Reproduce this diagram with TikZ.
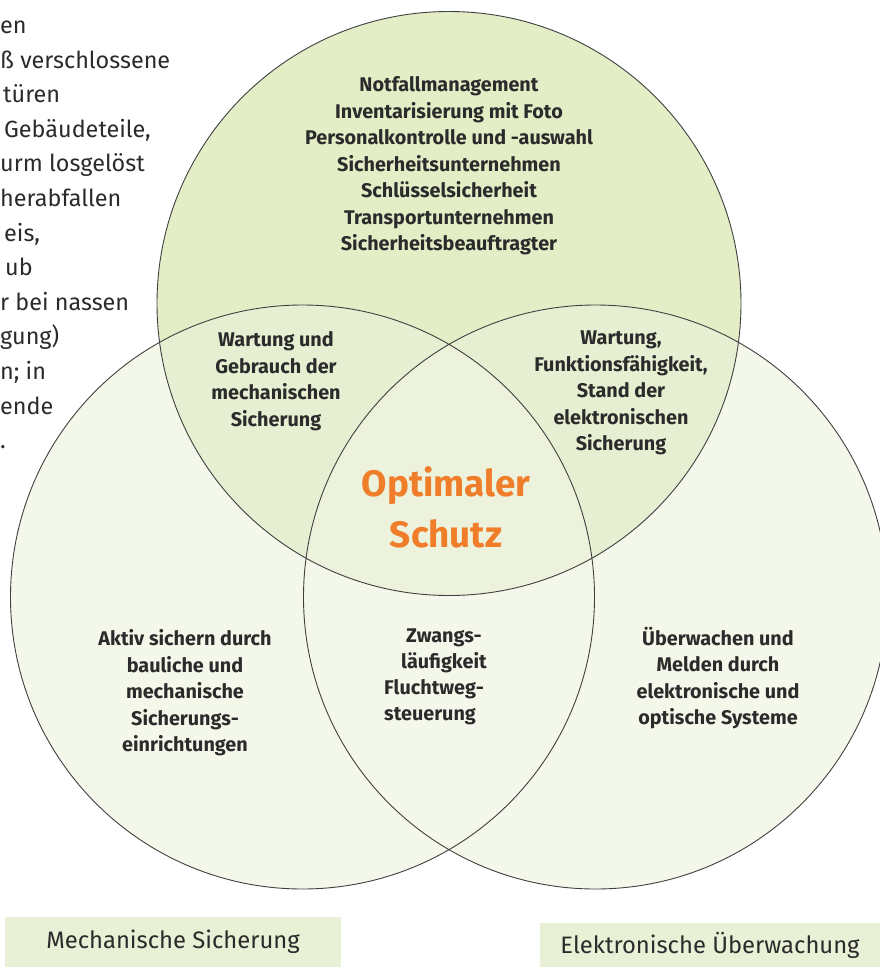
\documentclass[tikz,border=0pt]{standalone}
\usepackage{fontspec}
\setmainfont{Fira Sans}
\usetikzlibrary{positioning}

\definecolor{topgreen}{HTML}{E3EDC6}
\definecolor{sidegreen}{HTML}{F4F8EA}
\definecolor{lensgreen}{HTML}{E7EFD2}
\definecolor{midgreen}{HTML}{ECF2DC}
\definecolor{boxgreen}{HTML}{E8F0D6}
\definecolor{schutzorange}{HTML}{EF7D2A}
\definecolor{ink}{HTML}{2B2B2B}

\begin{document}
\begin{tikzpicture}[x=1pt, y=-1pt,
    ring/.style={draw=ink!90, line width=0.9pt},
    lbl/.style={font=\bfseries\fontsize{19.8}{26.5}\selectfont, text=ink, align=center, inner sep=0pt},
    side/.style={font=\fontsize{23.4}{34.6}\selectfont, text=ink, anchor=base west, inner sep=0pt},
    tag/.style={fill=boxgreen, font=\fontsize{23.8}{26}\selectfont, text=ink, inner sep=0pt}]
    \useasboundingbox (0,0) rectangle (880,967);

    % text cut at the left margin
    \node[side] (s1) at (0,33.5) {en};
    \node[side] (s2) at (0,68) {ß verschlossene};
    \node[side] (s3) at (3,102.7) {türen};
    \node[side] (s4) at (4,137.3) {Gebäudeteile,};
    \node[side] (s5) at (0,171.9) {urm losgelöst};
    \node[side] (s6) at (0,206.5) {herabfallen};
    \node[side] (s7) at (4,241.1) {eis,};
    \node[side] (s8) at (5,275.7) {ub};
    \node[side] (s9) at (0,310.3) {r bei nassen};
    \node[side] (s10) at (0,344.9) {gung)};
    \node[side] (s11) at (0,379.5) {n; in};
    \node[side] (s12) at (0,414.1) {ende};
    \node[side] (s13) at (0,448.7) {.};

    % the three circles
    \coordinate (mt) at (449,303.5);
    \coordinate (ml) at (302.5,597);
    \coordinate (mr) at (595.5,597);
    \fill[sidegreen] (ml) circle (292pt) (mr) circle (292pt);
    \fill[topgreen] (mt) circle (292pt);
    \begin{scope}
        \clip (mt) circle (292pt);
        \fill[lensgreen] (ml) circle (292pt) (mr) circle (292pt);
        \clip (ml) circle (292pt);
        \fill[midgreen] (mr) circle (292pt);
    \end{scope}
    \draw[ring] (mt) circle (292pt) (ml) circle (292pt) (mr) circle (292pt);

    \node[lbl] (plan) at (449,166) {Notfallmanagement\\Inventarisierung mit Foto\\Personalkontrolle und -auswahl\\Sicherheitsunternehmen\\Schlüsselsicherheit\\Transportunternehmen\\Sicherheitsbeauftragter};
    \node[lbl] (mechlap) at (276,381) {Wartung und\\Gebrauch der\\mechanischen\\Sicherung};
    \node[lbl] (elektlap) at (621,393) {Wartung,\\Funktionsfähigkeit,\\Stand der\\elektronischen\\Sicherung};
    \node[lbl, text=schutzorange, font=\bfseries\fontsize{36.8}{51}\selectfont] (schutz) at (446,507) {Optimaler\\Schutz};
    \node[lbl] (mech) at (185,693) {Aktiv sichern durch\\bauliche und\\mechanische\\Sicherungs-\\einrichtungen};
    \node[lbl] (zwang) at (444,651) {Zwangs-\\läufigkeit};
    \node[lbl, anchor=north west, align=left] (flucht) at (384,679) {Fluchtweg-\\steuerung};
    \node[lbl] (elekt) at (718,678) {Überwachen und\\Melden durch\\elektronische und\\optische Systeme};

    \node[tag, minimum width=336pt, minimum height=50pt] (mechtag) at (173,942) {Mechanische Sicherung};
    \node[tag, minimum width=340pt, minimum height=44pt] (elekttag) at (710,945) {Elektronische Überwachung};
\end{tikzpicture}
\end{document}
